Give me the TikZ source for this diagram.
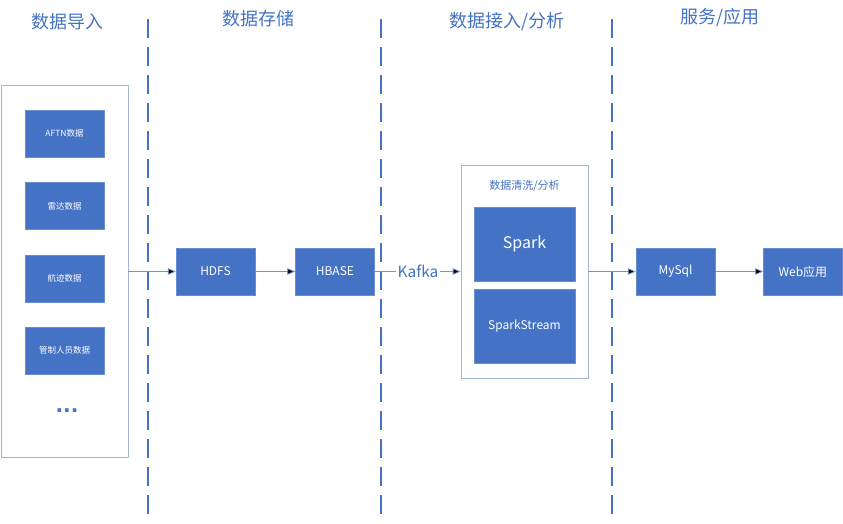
\documentclass[tikz,border=0pt]{standalone}
\usepackage{fontspec}
\setmainfont{Noto Sans CJK SC}
\newfontfamily\dotfont{DejaVu Sans}
\usetikzlibrary{arrows,positioning}
\definecolor{boxblue}{HTML}{4472C4}
\definecolor{lineblue}{HTML}{6F93D3}
\definecolor{framegray}{HTML}{A3B6D8}
\tikzset{data node/.style={rectangle,fill=boxblue,draw=boxblue!80!white,text=white,minimum width=79pt,minimum height=47pt,inner sep=0pt,font=\fontsize{12}{14}\selectfont},
}

\begin{document}
\begin{tikzpicture}[x=1pt,y=-1pt,->,>=triangle 45,thin,
		frame node/.style={rectangle,draw=framegray,line width=0.8pt,inner sep=0pt},
		title node/.style={text=boxblue,font=\fontsize{18}{21}\selectfont},
		sep line/.style={-,draw=boxblue,line width=2.2pt,dash pattern=on 19pt off 9pt}]
		\useasboundingbox (0,0) rectangle (843,524);
		
		% headings and separators
		\node[title node] (t1) at (67,22) {数据导入};
		\node[title node] (t2) at (258,19) {数据存储};
		\node[title node] (t3) at (507,22) {数据接入/分析};
		\node[title node] (t4) at (720,17) {服务/应用};
		\foreach \x in {148,381,612}
		\draw[sep line] (\x,19) -- (\x,522);
		
		% sources
		\node[frame node,minimum width=127pt,minimum height=372pt] (src) at (64.5,271.5) {};
		\node[data node,font=\fontsize{8.5}{10}\selectfont] (aftn) at (64.5,133.5) {AFTN数据};
		\node[data node,font=\fontsize{8.5}{10}\selectfont] (radar) [below=25pt of aftn] {雷达数据};
		\node[data node,font=\fontsize{8.5}{10}\selectfont] (track) [below=25pt of radar] {航迹数据};
		\node[data node,font=\fontsize{8.5}{10}\selectfont] (staff) [below=25pt of track] {管制人员数据};
		\node[text=boxblue,font=\dotfont\fontsize{20}{22}\bfseries] (more) at (67,411) {...};
		
		% storage
		\node[data node] (hdfs) at (215.5,271.5) {HDFS};
		\node[data node] (hbase) [right=40pt of hdfs] {HBASE};
		\node[text=boxblue,font=\fontsize{15.5}{18}\selectfont,inner sep=1pt] (kafka) at (418,271.5) {Kafka};
		
		% processing
		\node[frame node,minimum width=127pt,minimum height=213pt] (proc) at (524.5,271.5) {};
		\node[text=boxblue,font=\fontsize{11}{13}\selectfont] (proclabel) at (524.5,186) {数据清洗/分析};
		\node[data node,minimum width=101pt,minimum height=74pt,font=\fontsize{16}{18}\selectfont] (spark) at (524.5,244) {Spark};
		\node[data node,minimum width=101pt,minimum height=74pt] (stream) [below=8pt of spark] {SparkStream};
		
		% services
		\node[data node] (mysql) at (675.5,271.5) {MySql};
		\node[data node] (web) [right=48pt of mysql] {Web应用};
		
		\path[draw=lineblue,line width=0.8pt]
		(src) edge (hdfs)
		(hdfs) edge (hbase)
		(hbase) edge[-] (kafka)
		(kafka) edge (proc)
		(proc) edge (mysql)
		(mysql) edge (web)
		;
\end{tikzpicture}
\end{document}
